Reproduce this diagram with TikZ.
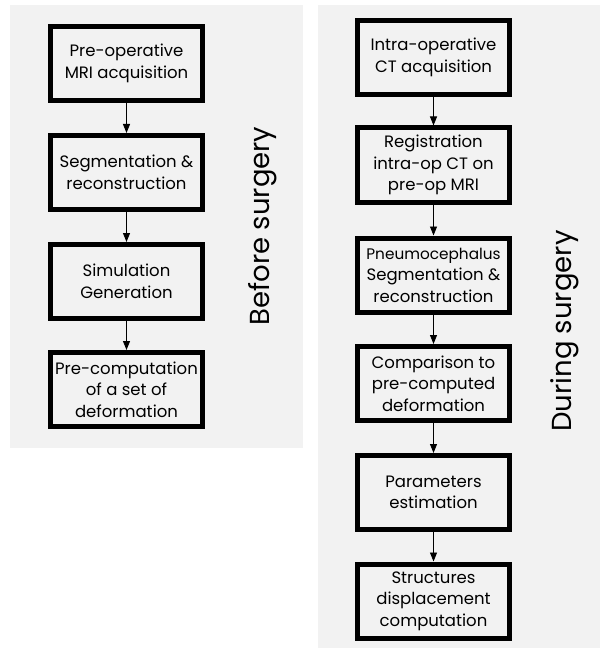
\documentclass[tikz,border=0pt]{standalone}
\usepackage{fontspec}
\setmainfont{Poppins}
\usetikzlibrary{arrows.meta}
\definecolor{panelgray}{HTML}{F2F2F2}
\begin{document}
\begin{tikzpicture}[x=1pt,y=-1pt,
  panel/.style={fill=panelgray,draw=none},
  stepbox/.style={draw=black,line width=5pt,fill=panelgray,minimum width=152pt,minimum height=74pt,
    align=center,inner sep=1pt,font=\fontsize{16.5}{21.5}\selectfont},
  flow/.style={line width=0.8pt,-{Triangle[length=9pt,width=7pt]}},
  side/.style={rotate=90,font=\fontsize{27.5}{30}\selectfont}]
\useasboundingbox (0,0) rectangle (600,650);
\fill[white] (0,0) rectangle (600,650);
\path[panel] (10,5) rectangle (303,448);
\path[panel] (318,5) rectangle (600,648);
% left column
\node[stepbox] (a1) at (126.5,63.5) {Pre-operative\\MRI acquisition};
\node[stepbox] (a2) at (126.5,172.5) {Segmentation \&\\reconstruction};
\node[stepbox] (a3) at (126.5,281.5) {Simulation\\Generation};
\node[stepbox] (a4) at (126.5,389.5) {Pre-computation\\of a set of\\deformation};
\draw[flow] (a1) -- (a2);
\draw[flow] (a2) -- (a3);
\draw[flow] (a3) -- (a4);
\node[side] (lb) at (263,226) {Before surgery};
% right column
\node[stepbox] (b1) at (433.5,57.5) {Intra-operative\\CT acquisition};
\node[stepbox] (b2) at (433.5,165) {Registration\\intra-op CT on\\pre-op MRI};
\node[stepbox] (b3) at (433.5,275) {\fontsize{15.3}{21.5}\selectfont Pneumocephalus\\Segmentation \&\\reconstruction};
\node[stepbox] (b4) at (433.5,383.5) {Comparison to\\pre-computed\\deformation};
\node[stepbox] (b5) at (433.5,492.5) {Parameters\\estimation};
\node[stepbox] (b6) at (433.5,601) {Structures\\displacement\\computation};
\draw[flow] (b1) -- (b2);
\draw[flow] (b2) -- (b3);
\draw[flow] (b3) -- (b4);
\draw[flow] (b4) -- (b5);
\draw[flow] (b5) -- (b6);
\node[side] (rb) at (565,331) {During surgery};
\end{tikzpicture}
\end{document}
